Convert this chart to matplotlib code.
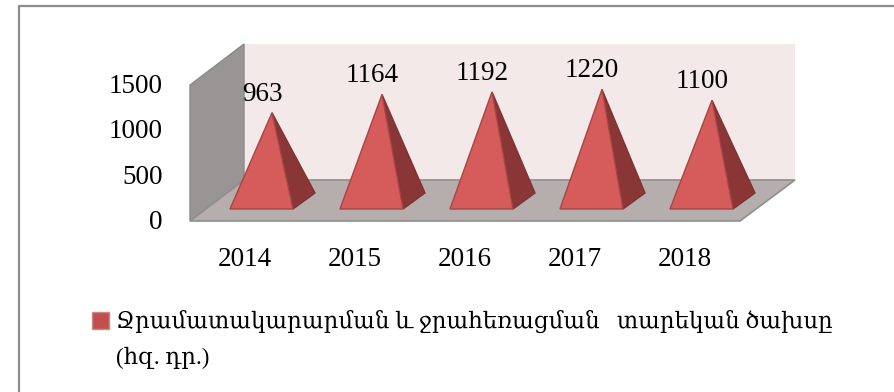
import matplotlib
matplotlib.use('Agg')
import matplotlib.pyplot as plt
from matplotlib.lines import Line2D
from matplotlib.patches import Polygon, Rectangle

years = ['2014', '2015', '2016', '2017', '2018']
values = [963, 1164, 1192, 1220, 1100]
yticks = [0, 500, 1000, 1500]
legend_lines = ['Ջրամատակարարման և ջրահեռացման   տարեկան ծախսը', '(հզ. դր.)']

W, H = 895, 392
FONT = ['Liberation Serif', 'DejaVu Serif']
FS = 19.5

# front plane of the fake 3d box, in pixels
left, right, floor, top = 190, 740, 221, 85
# one pixel in data units
px = 1 / 110.0
py = 1500.0 / (floor - top)
depth_x, depth_y = 54, 41

fig = plt.figure(figsize=(W / 100, H / 100), dpi=100)
fig.patch.set_facecolor('white')
ax = fig.add_axes([left / W, 1 - floor / H, (right - left) / W, (floor - top) / H])
ax.set_xlim(0, len(years))
ax.set_ylim(0, 1500)
ax.axis('off')


def pt(x, y):
    # data position shifted by a pixel offset
    return (x[0] + x[1] * px, y[0] + y[1] * py)


def poly(points, **kw):
    ax.add_patch(Polygon(points, closed=True, clip_on=False, **kw))


# walls and floor
xmax = len(years)
ymax = 1500
poly([pt((0, depth_x), (0, depth_y)), pt((xmax, depth_x + 1), (0, depth_y)),
      pt((xmax, depth_x + 1), (ymax, depth_y)), pt((0, depth_x), (ymax, depth_y))],
     facecolor='#f4e9e9', edgecolor='none', zorder=1)
poly([pt((0, 0), (0, 0)), pt((0, depth_x), (0, depth_y)),
      pt((0, depth_x), (ymax, depth_y)), pt((0, 0), (ymax, 0))],
     facecolor='#9a9595', edgecolor='#8a8a8a', linewidth=1, zorder=2)
poly([pt((0, 0), (0, 0)), pt((xmax, 0), (0, 0)),
      pt((xmax, depth_x + 1), (0, depth_y)), pt((0, depth_x), (0, depth_y))],
     facecolor='#b6adad', edgecolor='#8f8f8f', linewidth=1.2, zorder=3)

# pyramids
for i, v in enumerate(values):
    c = i + 0.5
    apex = pt((c, 27), (v, 21))
    fl = pt((c, -15), (0, 12))
    fm = pt((c, 48), (0, 12))
    br = pt((c, 70), (0, 28))
    poly([apex, fm, br], facecolor='#8b3636', edgecolor='#7e3232', linewidth=1, zorder=4)
    poly([apex, fl, fm], facecolor='#d65c5c', edgecolor='#a84444', linewidth=1, zorder=5)
    ax.annotate(str(v), xy=apex, xytext=(-10, 12), textcoords='offset pixels',
                ha='center', va='baseline', family=FONT, fontsize=FS, color='black',
                zorder=6, annotation_clip=False)

# tick labels
for t in yticks:
    ax.text(-27 * px, t - 8 * py, str(t), ha='right', va='baseline', family=FONT, fontsize=FS,
            color='black', clip_on=False)
for i, y in enumerate(years):
    ax.text(i + 0.5, -45 * py, y, ha='center', va='baseline', family=FONT, fontsize=FS,
            color='black', clip_on=False)

# legend and outer frame, in figure pixels
fig.add_artist(Rectangle((92 / W, 1 - 329 / H), 17 / W, 17 / H, transform=fig.transFigure,
                         facecolor='#c0504d', edgecolor='#c98a88', linewidth=1))
fig.text(116 / W, 1 - 328 / H, legend_lines[0], family=FONT, fontsize=16.5, color='black')
fig.text(116 / W, 1 - 364 / H, legend_lines[1], family=FONT, fontsize=16.5, color='black')
fig.add_artist(Line2D([19 / W, 19 / W, 1], [0, 1 - 6 / H, 1 - 6 / H], transform=fig.transFigure,
                      color='#8c8c8c', linewidth=1.6))

fig.savefig('out.png', dpi=100)
